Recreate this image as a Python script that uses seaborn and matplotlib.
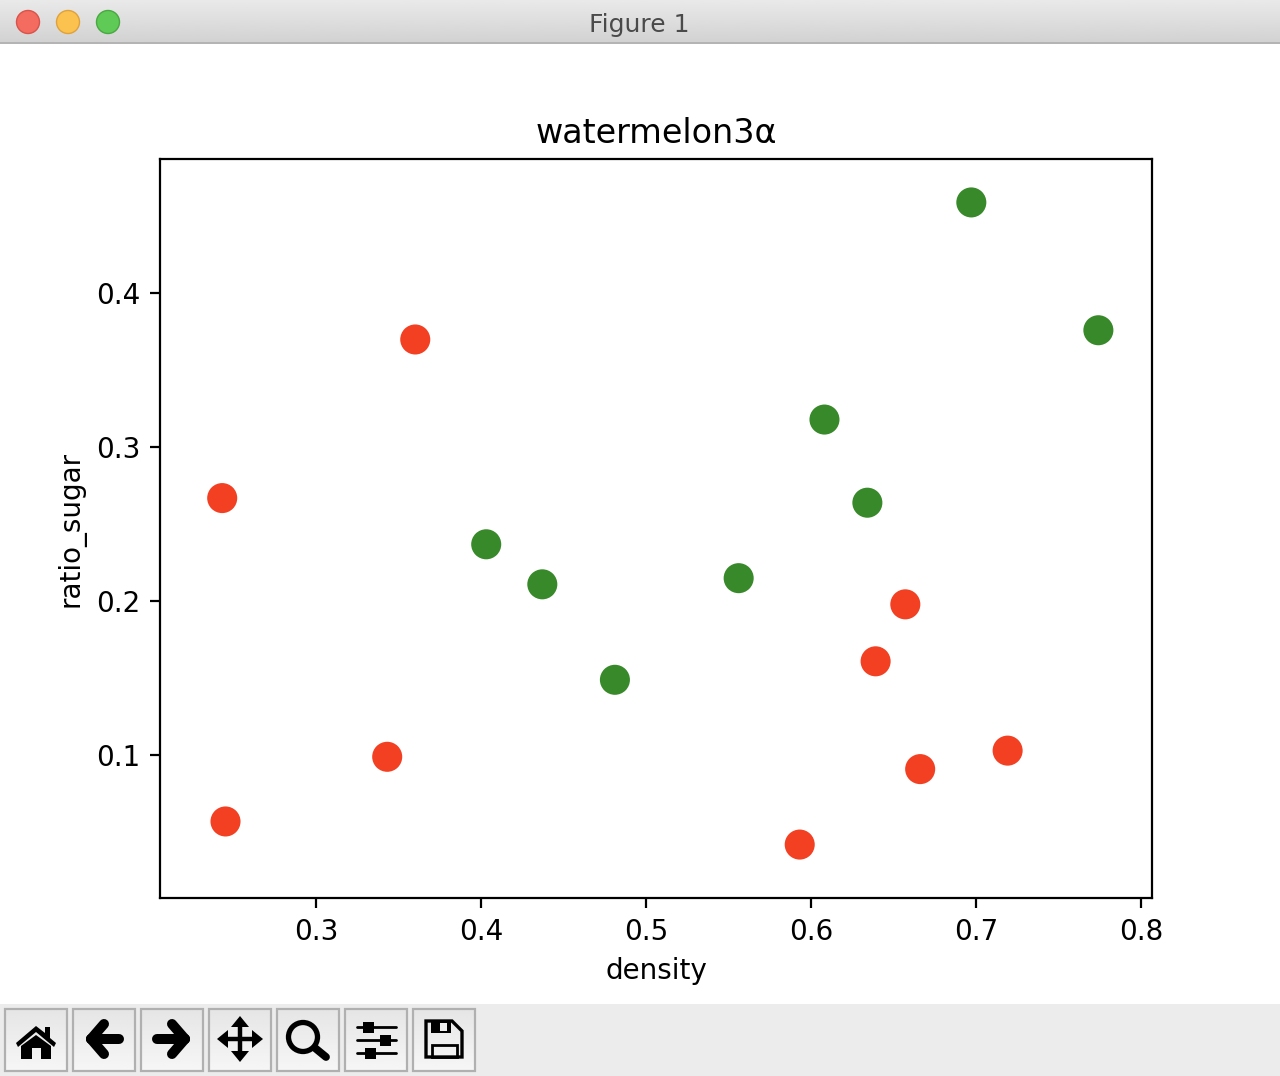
#!/usr/bin/env python3
# -*- coding: utf-8 -*-
"""watermelon 3.0 alpha scatter, inside a mac style figure window"""

import numpy as np
import pandas as pd
import matplotlib
matplotlib.use("Agg")
import matplotlib.pyplot as plt
from matplotlib.patches import Circle, Polygon, Rectangle
import seaborn as sns

good_density = [0.697, 0.774, 0.634, 0.608, 0.556, 0.403, 0.481, 0.437]
good_sugar = [0.459, 0.376, 0.264, 0.318, 0.215, 0.237, 0.149, 0.211]
bad_density = [0.666, 0.243, 0.245, 0.343, 0.639, 0.657, 0.360, 0.593, 0.719]
bad_sugar = [0.091, 0.267, 0.057, 0.099, 0.161, 0.198, 0.370, 0.042, 0.103]

X_TICKS = [0.3, 0.4, 0.5, 0.6, 0.7, 0.8]
Y_TICKS = [0.1, 0.2, 0.3, 0.4]

W, H = 1280, 1076
DPI = 200
GREEN = "#38892A"
RED = "#F33F22"


def draw_chrome(fig):
    """title bar and toolbar, in pixel coordinates on a background axes"""
    bg = fig.add_axes([0, 0, 1, 1], zorder=0)
    bg.axis("off")

    grad = np.linspace(0.915, 0.825, 64).reshape(-1, 1)
    bg.imshow(grad, extent=(0, W, 42, 0), cmap="gray", vmin=0, vmax=1, aspect="auto")
    bg.add_patch(Rectangle((0, 42), W, 2, fc="#b4b4b4", ec="none"))
    bg.add_patch(Rectangle((0, 1004), W, 72, fc="#ececec", ec="none"))

    for x, fc, ec in [(28, "#f46b60", "#d9534a"), (68, "#fbc24f", "#dfa23a"),
                      (108, "#5fca55", "#4aa842")]:
        bg.add_patch(Circle((x, 22), 11.5, fc=fc, ec=ec, lw=0.5))
    bg.text(639, 25, "Figure 1", ha="center", va="center", fontsize=9.0, color="#4a4a4a")

    btn = np.linspace(0.9, 0.965, 32).reshape(-1, 1)
    for i in range(7):
        x = 5 + 68 * i
        bg.imshow(btn, extent=(x, x + 62, 1071, 1009), cmap="gray", vmin=0, vmax=1,
                  aspect="auto", zorder=1)
        bg.add_patch(Rectangle((x, 1009), 62, 62, fc="none", ec="#b0b0b0", lw=0.8, zorder=2))

    k = "black"
    z = 3
    # home
    bg.add_patch(Polygon([(16, 1043), (36, 1026), (45, 1033), (45, 1027), (50, 1027), (50, 1038),
                          (56, 1043), (54, 1047), (36, 1032), (18, 1047)], fc=k, ec="none", zorder=z))
    bg.add_patch(Polygon([(21, 1046), (36, 1035), (51, 1046), (51, 1059), (41, 1059), (41, 1048),
                          (32, 1048), (32, 1059), (21, 1059)], fc=k, ec="none", zorder=z))
    # back / forward
    for x0, s in [(86, 1), (190, -1)]:
        for xe, ye in [(18, 1024), (18, 1054), (33, 1039)]:
            bg.plot([x0 + s * 5, x0 + s * xe], [1039, ye], color=k, lw=3.6,
                    solid_capstyle="round", zorder=z)
    # move
    bg.plot([225, 255], [1039, 1039], color=k, lw=1.6, zorder=z)
    bg.plot([240, 240], [1024, 1054], color=k, lw=1.6, zorder=z)
    for tri in [[(217, 1039), (228, 1030), (228, 1048)], [(263, 1039), (252, 1030), (252, 1048)],
                [(240, 1016), (231, 1027), (249, 1027)], [(240, 1062), (231, 1051), (249, 1051)]]:
        bg.add_patch(Polygon(tri, fc=k, ec="none", zorder=z))
    # zoom
    bg.add_patch(Circle((303, 1037), 14.5, fc="none", ec=k, lw=1.9, zorder=z))
    bg.plot([315, 326], [1048, 1057], color=k, lw=2.8, solid_capstyle="round", zorder=z)
    # sliders
    for y, xb in [(1027, 368), (1040, 385), (1053, 370)]:
        bg.plot([357, 396], [y, y], color=k, lw=1.0, zorder=z)
        bg.add_patch(Rectangle((xb - 5.5, y - 5.5), 11, 11, fc=k, ec="none", zorder=z))
    # save
    bg.add_patch(Polygon([(426, 1021), (452, 1021), (462, 1031), (462, 1057), (426, 1057)],
                         fc="none", ec=k, lw=1.2, zorder=z))
    bg.add_patch(Rectangle((431, 1021), 20, 12, fc=k, ec="none", zorder=z))
    bg.add_patch(Rectangle((440, 1023), 7, 8, fc="#eeeeee", ec="none", zorder=z))
    bg.add_patch(Rectangle((432, 1045), 25, 12, fc="none", ec=k, lw=1.0, zorder=z))

    bg.set_xlim(0, W)
    bg.set_ylim(H, 0)


def main():
    sns.set_style("ticks")
    plt.rcParams["font.family"] = ["DejaVu Sans"]
    plt.rcParams["text.color"] = "black"
    plt.rcParams["axes.labelcolor"] = "black"
    plt.rcParams["xtick.color"] = "black"
    plt.rcParams["ytick.color"] = "black"

    fig = plt.figure(figsize=(W / DPI, H / DPI), dpi=DPI, facecolor="white")
    draw_chrome(fig)

    ax = fig.add_axes([160 / W, 1 - 898 / H, (1152 - 160) / W, (898 - 159) / H],
                      zorder=1, facecolor="white")

    df = pd.DataFrame({
        "density": good_density + bad_density,
        "ratio_sugar": good_sugar + bad_sugar,
        "label": ["good"] * len(good_density) + ["bad"] * len(bad_density),
    })
    sns.scatterplot(data=df, x="density", y="ratio_sugar", hue="label",
                    palette={"good": GREEN, "bad": RED}, s=117, linewidth=0,
                    legend=False, ax=ax)

    ax.set_xlim(0.2053, 0.8065)
    ax.set_ylim(0.0073, 0.4872)
    ax.set_xticks(X_TICKS)
    ax.set_yticks(Y_TICKS)
    ax.tick_params(labelsize=10, length=3.5, width=0.8, color="black", direction="out")
    ax.tick_params(axis="x", pad=3.6)
    for spine in ax.spines.values():
        spine.set_visible(True)
        spine.set_color("black")
        spine.set_linewidth(0.8)
    ax.set_xlabel("density", fontsize=10)
    ax.set_ylabel("ratio_sugar", fontsize=10)
    ax.set_title("watermelon3α", fontsize=12, pad=5.7)

    fig.savefig("out.png", dpi=DPI)
    plt.close(fig)


if __name__ == "__main__":
    main()
